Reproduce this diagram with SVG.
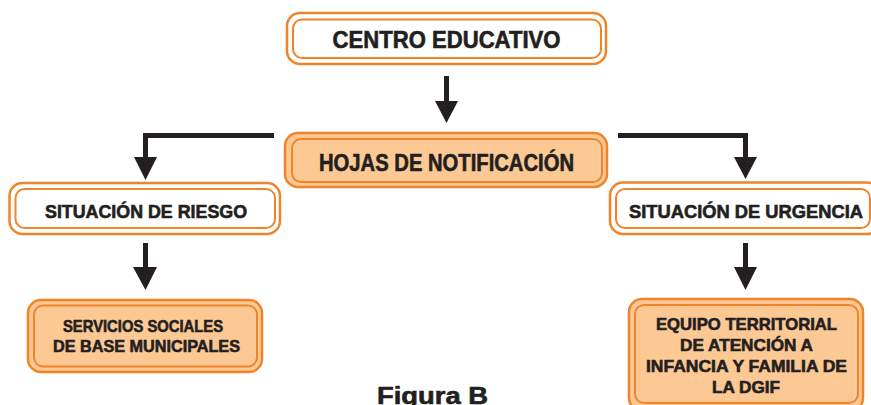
<svg xmlns="http://www.w3.org/2000/svg" width="871" height="405" viewBox="0 0 871 405">
<style>
.o{fill:none;stroke:#f0842a;stroke-width:2.5}
.i{fill:none;stroke:#f0842a;stroke-width:2}
.f{fill:#fcc894}
.t{font-family:"Liberation Sans",Arial,sans-serif;font-weight:bold;fill:#231f20;stroke:#231f20;stroke-width:0.6;text-anchor:middle}
.c{fill:none;stroke:#231f20;stroke-width:5}
.h{fill:#231f20}
</style>
<rect width="871" height="405" fill="#fff"/>
<g id="connectors">
<path class="c" d="M446.5,76 V102"/>
<polygon class="h" points="435,101 458,101 446.5,123"/>
<path class="c" d="M274,135.5 H145.5 V158"/>
<polygon class="h" points="134,157 157,157 145.5,180"/>
<path class="c" d="M618,135.5 H745.5 V158"/>
<polygon class="h" points="734,157 757,157 745.5,179"/>
<path class="c" d="M145.5,243 V268"/>
<polygon class="h" points="133,267 157,267 145.5,290"/>
<path class="c" d="M745.5,243 V268"/>
<polygon class="h" points="734,267 757,267 745.5,290"/>
</g>
<g id="centro">
<rect class="o" x="287" y="13" width="319" height="51" rx="13"/>
<rect class="i" x="293" y="19.5" width="308" height="38.5" rx="9"/>
<text class="t" x="446.5" y="48" font-size="23" textLength="228" lengthAdjust="spacingAndGlyphs">CENTRO EDUCATIVO</text>
</g>
<g id="hojas">
<rect class="o f" x="285" y="133" width="322" height="54" rx="13"/>
<rect class="i" x="292" y="139" width="310" height="43" rx="9"/>
<text class="t" x="446.5" y="171" font-size="23" textLength="255" lengthAdjust="spacingAndGlyphs">HOJAS DE NOTIFICACIÓN</text>
</g>
<g id="riesgo">
<rect class="o" x="9.5" y="183" width="270.5" height="51" rx="13"/>
<rect class="i" x="15.5" y="189" width="259.5" height="39" rx="9"/>
<text class="t" x="146" y="217.5" font-size="18" textLength="202" lengthAdjust="spacingAndGlyphs">SITUACIÓN DE RIESGO</text>
</g>
<g id="urgencia">
<rect class="o" x="610" y="182.5" width="270" height="51.5" rx="13"/>
<rect class="i" x="616" y="189" width="254" height="39" rx="9"/>
<text class="t" x="746" y="217.5" font-size="18" textLength="234" lengthAdjust="spacingAndGlyphs">SITUACIÓN DE URGENCIA</text>
</g>
<g id="servicios">
<rect class="o f" x="28" y="300" width="234" height="72" rx="13"/>
<rect class="i" x="34" y="305.5" width="223" height="61" rx="9"/>
<text class="t" x="143" y="332" font-size="17" textLength="160" lengthAdjust="spacingAndGlyphs">SERVICIOS SOCIALES</text>
<text class="t" x="146.5" y="352" font-size="17" textLength="187" lengthAdjust="spacingAndGlyphs">DE BASE MUNICIPALES</text>
</g>
<g id="equipo">
<rect class="o f" x="629" y="299" width="234" height="112" rx="13"/>
<rect class="i" x="635" y="305" width="223" height="98" rx="9"/>
<text class="t" x="746.5" y="330" font-size="17" textLength="181" lengthAdjust="spacingAndGlyphs">EQUIPO TERRITORIAL</text>
<text class="t" x="746.5" y="351" font-size="17" textLength="133" lengthAdjust="spacingAndGlyphs">DE ATENCIÓN A</text>
<text class="t" x="746.5" y="372" font-size="17" textLength="201" lengthAdjust="spacingAndGlyphs">INFANCIA Y FAMILIA DE</text>
<text class="t" x="746" y="392.5" font-size="17" textLength="68" lengthAdjust="spacingAndGlyphs">LA DGIF</text>
</g>
<text class="t" x="432.5" y="404" font-size="23" textLength="111" lengthAdjust="spacingAndGlyphs">Figura B</text>
</svg>
